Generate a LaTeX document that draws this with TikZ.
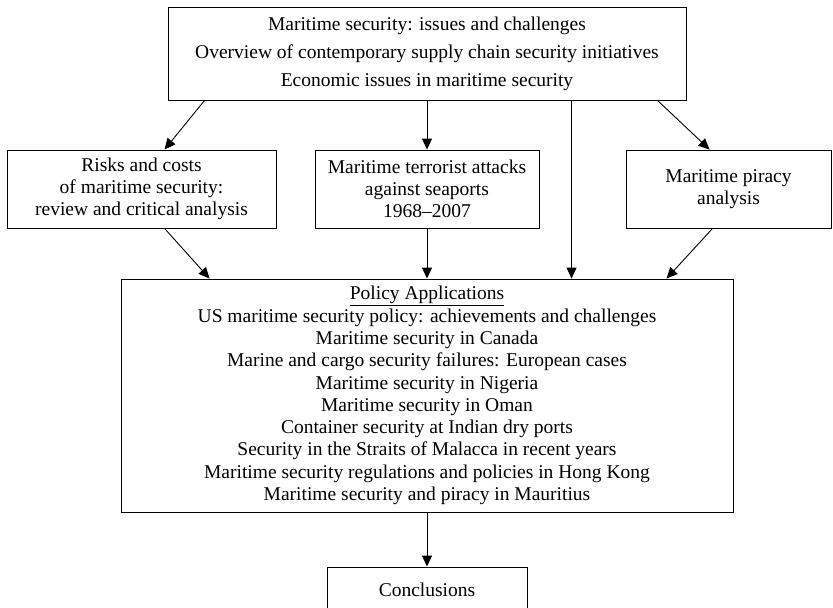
\documentclass[tikz,border=0pt]{standalone}
\usepackage{fontspec}
\setmainfont{Liberation Serif}
\usetikzlibrary{arrows.meta,calc}
\begin{document}
\begin{tikzpicture}[x=1pt,y=-1pt,
  box/.style={draw,line width=0.9pt,inner sep=0pt,align=center,
    font=\fontsize{19.5}{21.8}\selectfont},
  arr/.style={line width=0.9pt,-{Triangle[length=11pt,width=10pt]}}]
\useasboundingbox[fill=white] (0,0) rectangle (833,608);
\node[box,minimum width=518,minimum height=93,font=\fontsize{19.5}{28}\selectfont] (top) at (427,53.5)
  {Maritime security: issues and challenges\\Overview of contemporary supply chain security initiatives\\Economic issues in maritime security};
\node[box,minimum width=269,minimum height=78] (left) at (141.5,189)
  {Risks and costs\\of maritime security:\\review and critical analysis};
\node[box,minimum width=224,minimum height=78] (mid) at (427,189)
  {Maritime terrorist attacks\\against seaports\\1968--2007};
\node[box,minimum width=205,minimum height=78] (right) at (728.5,189)
  {Maritime piracy\\analysis};
\node[box,minimum width=612,minimum height=233,font=\fontsize{19.5}{22.3}\selectfont] (big) at (427,395.5)
  {\underline{Policy Applications}\\
   US maritime security policy: achievements and challenges\\
   Maritime security in Canada\\
   Marine and cargo security failures: European cases\\
   Maritime security in Nigeria\\
   Maritime security in Oman\\
   Container security at Indian dry ports\\
   Security in the Straits of Malacca in recent years\\
   Maritime security regulations and policies in Hong Kong\\
   Maritime security and piracy in Mauritius};
\node[box,minimum width=200,minimum height=46] (concl) at (427,590) {Conclusions};
\draw[arr] ($(top.south west)+(37,0)$) -- ($(left.north west)+(158,0)$);
\draw[arr] (top.south) -- (mid.north);
\draw[arr] ($(top.south west)+(490,0)$) -- ($(right.north west)+(84,0)$);
\draw[arr] ($(top.south west)+(404,0)$) -- ($(big.north west)+(451,0)$);
\draw[arr] ($(left.south west)+(158,0)$) -- ($(big.north west)+(89,0)$);
\draw[arr] (mid.south) -- (big.north);
\draw[arr] ($(right.south west)+(87,0)$) -- ($(big.north west)+(546,0)$);
\draw[arr] (big.south) -- (concl.north);
\end{tikzpicture}
\end{document}
